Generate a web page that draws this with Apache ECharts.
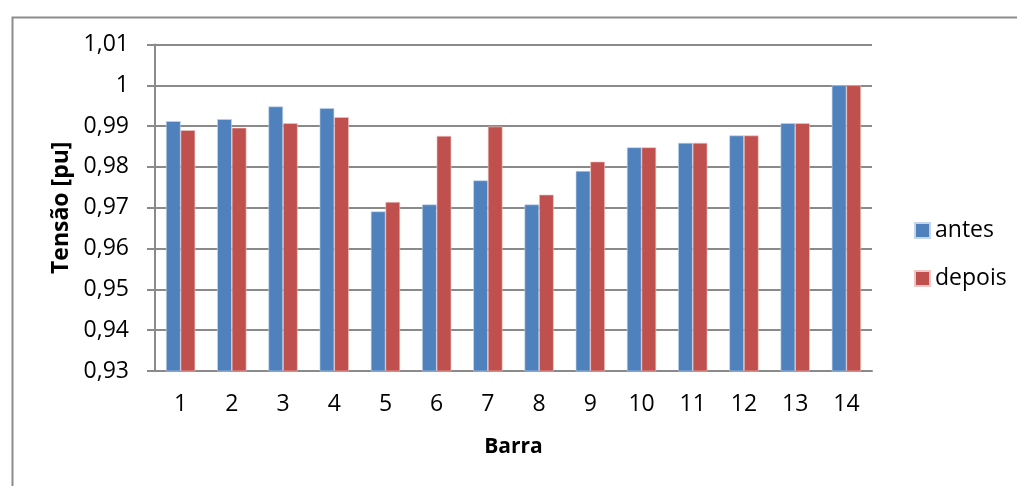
<!DOCTYPE html>
<html>
<head>
<meta charset="utf-8">
<script src="https://cdn.jsdelivr.net/npm/echarts@6/dist/echarts.min.js"></script>
<style>
  html, body { margin: 0; padding: 0; background: #fff; }
  #chart { width: 1017px; height: 486px; }
</style>
</head>
<body>
<div id="chart"></div>
<script>
// Bus numbers and per-unit voltages before / after
const categories = ['1', '2', '3', '4', '5', '6', '7', '8', '9', '10', '11', '12', '13', '14'];
const antes  = [0.9912, 0.9917, 0.9948, 0.9944, 0.9691, 0.9708, 0.9767, 0.9708, 0.9790, 0.9848, 0.9859, 0.9877, 0.9907, 1.0000];
const depois = [0.9890, 0.9896, 0.9907, 0.9922, 0.9714, 0.9876, 0.9899, 0.9732, 0.9813, 0.9848, 0.9859, 0.9877, 0.9907, 1.0000];
const seriesNames = ['antes', 'depois'];
const yMin = 0.93, yMax = 1.01, yStep = 0.01;

const FONT = '"Open Sans", "Liberation Sans", sans-serif';
const GRID_COLOR = '#8a8a8a';

// Decimal comma, trailing zeros dropped (1,01 / 1 / 0,99 ...)
const fmt = v => parseFloat(v.toFixed(2)).toString().replace('.', ',');

const chart = echarts.init(document.getElementById('chart'), null, { renderer: 'canvas' });

chart.setOption({
  animation: false,
  backgroundColor: '#ffffff',
  textStyle: { fontFamily: FONT },
  graphic: [{
    type: 'rect',
    left: 10, top: 15,
    shape: { width: 1200, height: 700 },
    style: { fill: 'none', stroke: '#8c8c8c', lineWidth: 2 },
    silent: true, z: -10
  }],
  grid: { left: 155, top: 44.5, width: 717, height: 326.5 },
  legend: {
    orient: 'vertical',
    left: 909, top: 214,
    itemWidth: 15, itemHeight: 15, itemGap: 25,
    icon: 'rect',
    data: seriesNames,
    textStyle: { fontFamily: FONT, fontSize: 23, color: '#000', padding: [0, 0, 0, 0] }
  },
  xAxis: {
    type: 'category',
    data: categories,
    name: 'Barra',
    nameLocation: 'middle',
    nameGap: 66,
    nameTextStyle: { fontFamily: FONT, fontSize: 21, fontWeight: 'bold', color: '#000' },
    axisLine: { show: true, lineStyle: { color: GRID_COLOR, width: 2 } },
    axisTick: { show: false },
    axisLabel: { fontFamily: FONT, fontSize: 23, color: '#000', margin: 22 }
  },
  yAxis: {
    type: 'value',
    min: yMin, max: yMax, interval: yStep,
    name: 'Tensão [pu]',
    nameLocation: 'middle',
    nameGap: 82,
    nameTextStyle: { fontFamily: FONT, fontSize: 23, fontWeight: 'bold', color: '#000' },
    axisLine: { show: true, lineStyle: { color: GRID_COLOR, width: 2 } },
    axisTick: { show: true, length: 8, lineStyle: { color: GRID_COLOR, width: 2 } },
    axisLabel: { fontFamily: FONT, fontSize: 23, color: '#000', margin: 26, formatter: fmt },
    splitLine: { show: true, lineStyle: { color: GRID_COLOR, width: 2 } }
  },
  series: [
    {
      name: seriesNames[0], type: 'bar', data: antes,
      barGap: '0%', barCategoryGap: '43%',
      itemStyle: { color: '#4F81BD', borderColor: '#c6d5ea', borderWidth: 0.6 }
    },
    {
      name: seriesNames[1], type: 'bar', data: depois,
      barGap: '0%', barCategoryGap: '43%',
      itemStyle: { color: '#C0504D', borderColor: '#ecc9c8', borderWidth: 0.6 }
    }
  ]
});
</script>
</body>
</html>
